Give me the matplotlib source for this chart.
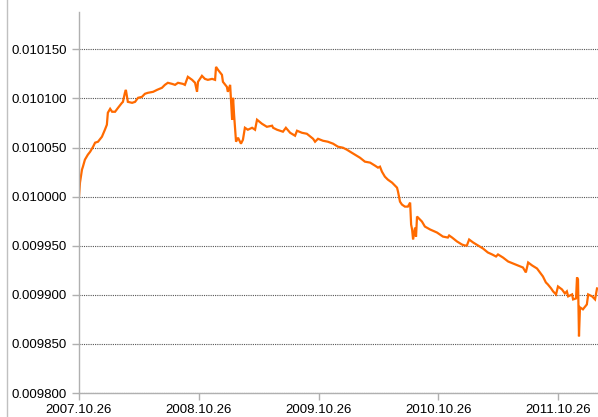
import matplotlib
matplotlib.use("Agg")
import matplotlib.pyplot as plt
import matplotlib.dates as mdates
from matplotlib.lines import Line2D
import pandas as pd
import numpy as np

start_date = "2007-10-26"
day_offsets = [0, 3, 9, 12, 18, 27, 34, 43, 49, 58, 70, 79, 85, 88, 95, 101, 110, 119, 131, 134,
               140, 143, 149, 162, 171, 180, 192, 201, 210, 226, 238, 253, 262, 271, 284, 293, 302, 317, 323, 332,
               345, 354, 360, 363, 375, 384, 393, 406, 415, 418, 424, 436, 439, 451, 454, 461, 464, 467, 470, 473,
               479, 485, 494, 500, 506, 515, 528, 537, 543, 558, 573, 589, 592, 604, 622, 631, 644, 659, 665, 680,
               695, 714, 720, 729, 744, 759, 775, 790, 805, 817, 827, 842, 857, 872, 888, 903, 912, 918, 924, 933,
               942, 955, 964, 970, 973, 979, 985, 994, 1003, 1010, 1013, 1016, 1019, 1025, 1028, 1031, 1034, 1046, 1055, 1071,
               1092, 1110, 1125, 1129, 1138, 1153, 1168, 1177, 1183, 1190, 1202, 1217, 1232, 1247, 1260, 1272, 1278, 1293, 1309, 1324,
               1339, 1354, 1363, 1370, 1382, 1397, 1406, 1415, 1424, 1430, 1440, 1446, 1455, 1461, 1473, 1482, 1488, 1492, 1504, 1507,
               1516, 1519, 1522, 1525, 1528, 1537, 1549, 1553, 1565, 1574, 1580]
values = [0.0100000, 0.0100142, 0.0100274, 0.0100305, 0.0100376, 0.0100427, 0.0100457, 0.0100508, 0.0100549, 0.0100559,
          0.0100610, 0.0100681, 0.0100732, 0.0100854, 0.0100894, 0.0100864, 0.0100864, 0.0100904, 0.0100955, 0.0100965,
          0.0101057, 0.0101087, 0.0100965, 0.0100955, 0.0100965, 0.0101006, 0.0101016, 0.0101047, 0.0101057, 0.0101067,
          0.0101087, 0.0101108, 0.0101138, 0.0101159, 0.0101148, 0.0101138, 0.0101159, 0.0101148, 0.0101138, 0.0101220,
          0.0101189, 0.0101159, 0.0101067, 0.0101169, 0.0101230, 0.0101199, 0.0101189, 0.0101199, 0.0101189, 0.0101321,
          0.0101291, 0.0101240, 0.0101169, 0.0101118, 0.0101067, 0.0101138, 0.0100965, 0.0100783, 0.0101006, 0.0100833,
          0.0100559, 0.0100600, 0.0100539, 0.0100579, 0.0100701, 0.0100681, 0.0100701, 0.0100681, 0.0100783, 0.0100742,
          0.0100711, 0.0100722, 0.0100701, 0.0100681, 0.0100661, 0.0100701, 0.0100650, 0.0100620, 0.0100671, 0.0100650,
          0.0100640, 0.0100589, 0.0100559, 0.0100589, 0.0100569, 0.0100559, 0.0100539, 0.0100508, 0.0100498, 0.0100478,
          0.0100457, 0.0100427, 0.0100396, 0.0100356, 0.0100346, 0.0100315, 0.0100295, 0.0100305, 0.0100254, 0.0100203,
          0.0100173, 0.0100142, 0.0100112, 0.0100091, 0.0100051, 0.0099949, 0.0099919, 0.0099898, 0.0099898, 0.0099939,
          0.0099715, 0.0099665, 0.0099563, 0.0099685, 0.0099593, 0.0099797, 0.0099787, 0.0099746, 0.0099695, 0.0099665,
          0.0099634, 0.0099593, 0.0099583, 0.0099604, 0.0099583, 0.0099543, 0.0099512, 0.0099502, 0.0099502, 0.0099563,
          0.0099533, 0.0099502, 0.0099472, 0.0099431, 0.0099411, 0.0099390, 0.0099411, 0.0099380, 0.0099339, 0.0099319,
          0.0099299, 0.0099278, 0.0099228, 0.0099329, 0.0099299, 0.0099268, 0.0099228, 0.0099187, 0.0099126, 0.0099106,
          0.0099065, 0.0099035, 0.0099004, 0.0099085, 0.0099055, 0.0099014, 0.0099035, 0.0098984, 0.0099004, 0.0098953,
          0.0098963, 0.0099177, 0.0099157, 0.0098577, 0.0098872, 0.0098852, 0.0098902, 0.0099004, 0.0098984, 0.0098953,
          0.0099065]

tick_dates = ["2007-10-26", "2008-10-26", "2009-10-26", "2010-10-26", "2011-10-26"]
y_ticks = [0.009800, 0.009850, 0.009900, 0.009950, 0.010000, 0.010050, 0.010100, 0.010150]

dates = pd.Timestamp(start_date) + pd.to_timedelta(day_offsets, unit="D")

plt.rcParams['font.family'] = ['Liberation Sans', 'DejaVu Sans']

fig = plt.figure(figsize=(5.98, 4.17), dpi=100)
ax = fig.add_axes([79/598, 1 - 393/417, 1 - 79/598, (393 - 12)/417])

ax.plot(dates, values, color="#FF6A00", linewidth=1.6, solid_joinstyle="miter")

ax.set_ylim(0.009800, 0.010188)
ax.set_xlim(pd.Timestamp(start_date), pd.Timestamp(start_date) + pd.Timedelta(days=1583))
ax.set_yticks(y_ticks)
ax.set_yticklabels([f"{v:.6f}" for v in y_ticks])
ax.set_xticks(pd.to_datetime(tick_dates))
ax.xaxis.set_major_formatter(mdates.DateFormatter("%Y.%m.%d"))

ax.grid(axis="y", color="#555555", linestyle=(0, (1, 1)), linewidth=0.8)
ax.grid(axis="x", visible=False)
ax.set_axisbelow(True)

for s in ["top", "right"]:
    ax.spines[s].set_visible(False)
for s in ["left", "bottom"]:
    ax.spines[s].set_color("#b0b0b0")
    ax.spines[s].set_linewidth(1.0)

ax.tick_params(axis="both", colors="#b0b0b0", length=5, width=1.0, labelsize=9.5, labelcolor="#000000")
ax.tick_params(axis="y", pad=4)
ax.tick_params(axis="x", pad=3)

fig.add_artist(Line2D([7/598, 7/598], [0, 1], color="#c0c0c0", linewidth=1.0, transform=fig.transFigure))

fig.savefig("out.png", dpi=100)
